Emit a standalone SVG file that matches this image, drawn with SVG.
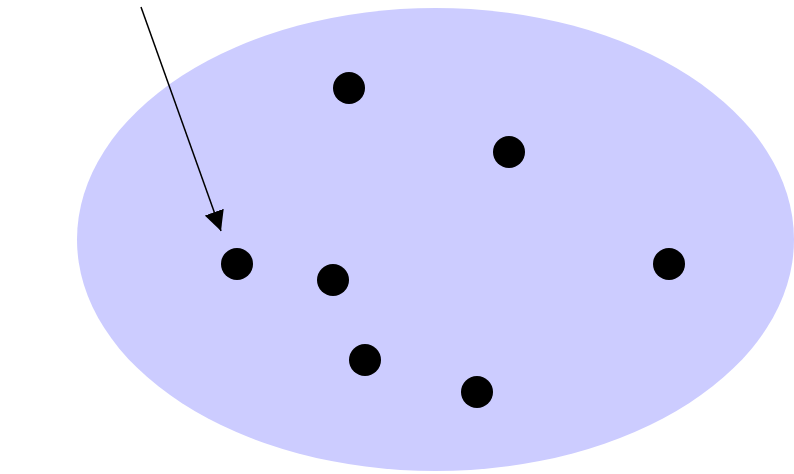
<svg xmlns="http://www.w3.org/2000/svg" width="794" height="474" viewBox="0 0 794 474">
<style>
.dot{fill:#000}
.conn{stroke:#000;stroke-width:1.5;fill:none}
</style>
<defs>
<marker id="arr" viewBox="0 0 20 20" refX="20" refY="10" markerWidth="20" markerHeight="20" markerUnits="userSpaceOnUse" orient="auto">
<path d="M0,0 L20,10 L0,20 Z" fill="#000"/>
</marker>
</defs>
<rect width="794" height="474" fill="#fff"/>
<g id="region"><ellipse cx="435.5" cy="239.5" rx="358.5" ry="231.5" fill="#ccccff"/></g>
<g id="n1"><circle class="dot" cx="349" cy="88" r="16"/></g>
<g id="n2"><circle class="dot" cx="509" cy="152" r="16"/></g>
<g id="n3"><circle class="dot" cx="237" cy="264" r="16"/></g>
<g id="n4"><circle class="dot" cx="333" cy="280" r="16"/></g>
<g id="n5"><circle class="dot" cx="669" cy="264" r="16"/></g>
<g id="n6"><circle class="dot" cx="365" cy="360" r="16"/></g>
<g id="n7"><circle class="dot" cx="477" cy="392" r="16"/></g>
<g id="connectors">
<path d="M141,7 L221,231" class="conn" marker-end="url(#arr)"/>
</g>
</svg>
